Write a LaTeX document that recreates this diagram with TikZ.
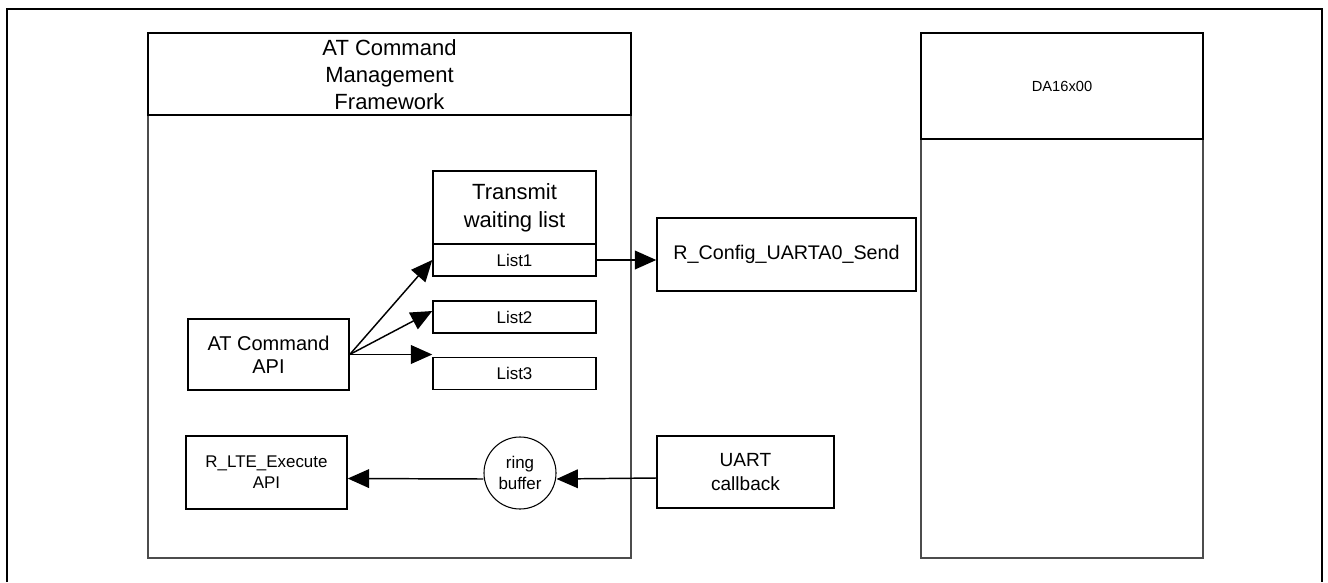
\documentclass[tikz,border=0pt]{standalone}
\usepackage{fontspec}
\setmainfont{Liberation Sans}
\usetikzlibrary{arrows.meta,positioning,calc}

\begin{document}
\begin{tikzpicture}[x=0.75pt, y=-0.75pt,
    container/.style={rectangle, draw=black!70, line width=0.8pt, minimum height=393.75pt, inner sep=0pt},
    headbox/.style={rectangle, draw, line width=1.1pt, anchor=north, inner sep=0pt, align=center},
    blk/.style={rectangle, draw, line width=1.1pt, inner sep=0pt, align=center},
    listbox/.style={blk, minimum width=122.25pt, minimum height=24pt, font=\fontsize{12.7}{15}\selectfont},
    ring/.style={circle, draw, line width=0.8pt, minimum size=54pt, inner sep=0pt, align=center,
                 font=\fontsize{12.7}{15.75}\selectfont},
    arr/.style={-{Triangle[length=16pt,width=14pt]}, line width=1.1pt}
  ]
  \useasboundingbox (0,0) rectangle (1328,582);
  % outer frame, open at the bottom
  \draw[line width=2pt] (7,582) -- (7,9) -- (1322,9) -- (1322,582);

  % containers
  \node[container, minimum width=362.25pt] (fw) at (389.5,295.5) {};
  \node[headbox, minimum width=362.25pt, minimum height=61.5pt,
        font=\fontsize{16.5}{20.25}\selectfont] (fwhead) at (fw.north)
        {AT Command\\Management\\Framework};
  \node[container, minimum width=211.5pt] (da) at (1062,295.5) {};
  \node[headbox, minimum width=211.5pt, minimum height=79.5pt,
        font=\fontsize{11}{13}\selectfont] (dahead) at (da.north) {DA16x00};

  % transmit waiting list
  \node[blk, minimum width=122.25pt, minimum height=54.75pt,
        font=\fontsize{16.5}{21}\selectfont] (tx) at (514.5,207.5) {Transmit\\waiting list};
  \node[listbox] (l1) at (514.5,260) {List1};
  \node[listbox] (l2) at (514.5,317) {List2};
  \node[listbox] (l3) at (514.5,373.5) {List3};

  \node[blk, minimum width=120.75pt, minimum height=53.25pt,
        font=\fontsize{15}{17.25}\selectfont] (api) at (268.5,354.5) {AT Command\\API};
  \node[blk, minimum width=120.75pt, minimum height=54.75pt,
        font=\fontsize{12.7}{15.75}\selectfont] (exe) at (266.5,472.5) {R\_LTE\_Execute\\API};
  \node[ring] (rb) at (520,473) {ring\\buffer};

  \node[blk, minimum width=132.75pt, minimum height=54pt,
        font=\fontsize{14.3}{18}\selectfont] (uart) at (745.5,472) {UART\\callback};
  \node[blk, minimum width=194.25pt, minimum height=54.75pt,
        font=\fontsize{14.8}{18}\selectfont] (send) at (786.5,254.5) {R\_Config\_UARTA0\_Send};

  % connectors
  \draw[arr] (api.east) -- (l1.west);
  \draw[arr] (api.east) -- ([yshift=4.5pt]l2.west);
  \draw[arr] (api.east) -- (api.east -| l3.west);
  \draw[arr] (l1.east) -- (l1.east -| send.west);
  \draw[arr] ([yshift=-4.5pt]uart.west) -- ([yshift=-4.5pt]rb.east);
  \draw[arr] ([yshift=-4.5pt]rb.west) -- ([yshift=-4.5pt]exe.east);
\end{tikzpicture}
\end{document}
